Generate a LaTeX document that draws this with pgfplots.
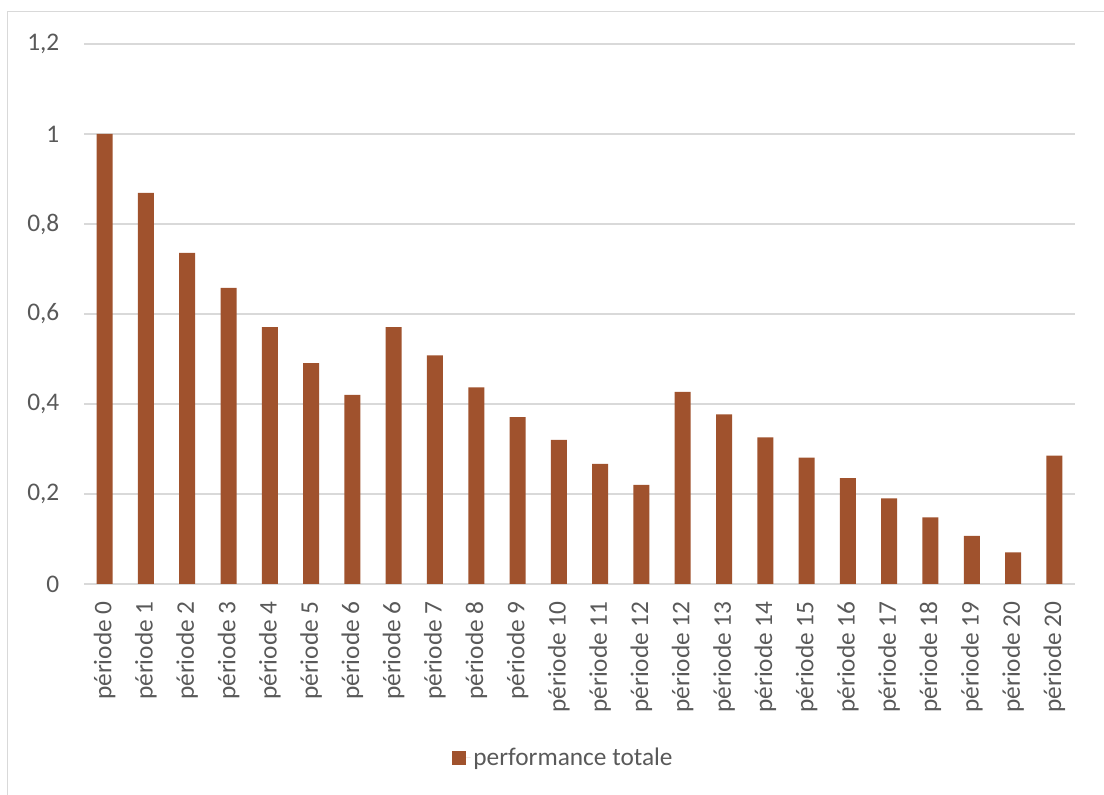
\documentclass[border=0pt]{standalone}
\usepackage{pgfplots}
\pgfplotsset{compat=1.18}
\usepackage{fontspec}
\setmainfont{Carlito}
\definecolor{barc}{HTML}{A0522D}
\definecolor{gridc}{HTML}{D9D9D9}
\definecolor{txtc}{HTML}{595959}
\begin{document}
\begin{tikzpicture}
\useasboundingbox (0,0) rectangle (828pt,596.25pt);
\draw[gridc, line width=1.1pt] (5.625pt,0pt) -- (5.625pt,587.6pt) -- (828pt,587.6pt);
\begin{axis}[
  at={(63pt,158.25pt)}, anchor=south west,
  scale only axis, width=743.25pt, height=405pt,
  ybar, bar width=12pt,
  xmin=-0.5, xmax=23.5, ymin=0, ymax=1.2,
  xtick=data,
  xticklabels={période 0,période 1,période 2,période 3,période 4,période 5,période 6,période 6,période 7,période 8,période 9,période 10,période 11,période 12,période 12,période 13,période 14,période 15,période 16,période 17,période 18,période 19,période 20,période 20},
  x tick label style={rotate=90, anchor=east, font=\fontsize{19}{20}\selectfont, text=txtc, xshift=-0.5pt},
  xticklabel shift=9pt,
  ytick={0,0.2,0.4,0.6,0.8,1,1.2},
  /pgf/number format/assume math mode=true,
  /pgf/number format/use comma,
  y tick label style={font=\fontsize{19}{20}\selectfont, text=txtc},
  yticklabel shift=15pt,
  major tick length=0pt,
  axis line style={draw=none},
  ymajorgrids, grid style={gridc, line width=1pt},
  legend style={at={(0.484,-0.322)}, anchor=center, draw=none, fill=none,
    font=\fontsize{19}{20}\selectfont, text=txtc, legend cell align=left},
  legend image code/.code={\fill[barc] (0pt,-5.25pt) rectangle (10.5pt,5.25pt); \path (0pt,0pt) -- (14pt,0pt);},
]
\addplot[fill=barc, draw=none] coordinates {
(0,1.0) (1,0.869) (2,0.736) (3,0.658) (4,0.571) (5,0.491) (6,0.420) (7,0.571)
(8,0.508) (9,0.437) (10,0.371) (11,0.320) (12,0.267) (13,0.220) (14,0.427)
(15,0.377) (16,0.326) (17,0.281) (18,0.235) (19,0.190) (20,0.148) (21,0.107)
(22,0.070) (23,0.285)};
\addlegendentry{performance totale}
\end{axis}
\end{tikzpicture}
\end{document}
